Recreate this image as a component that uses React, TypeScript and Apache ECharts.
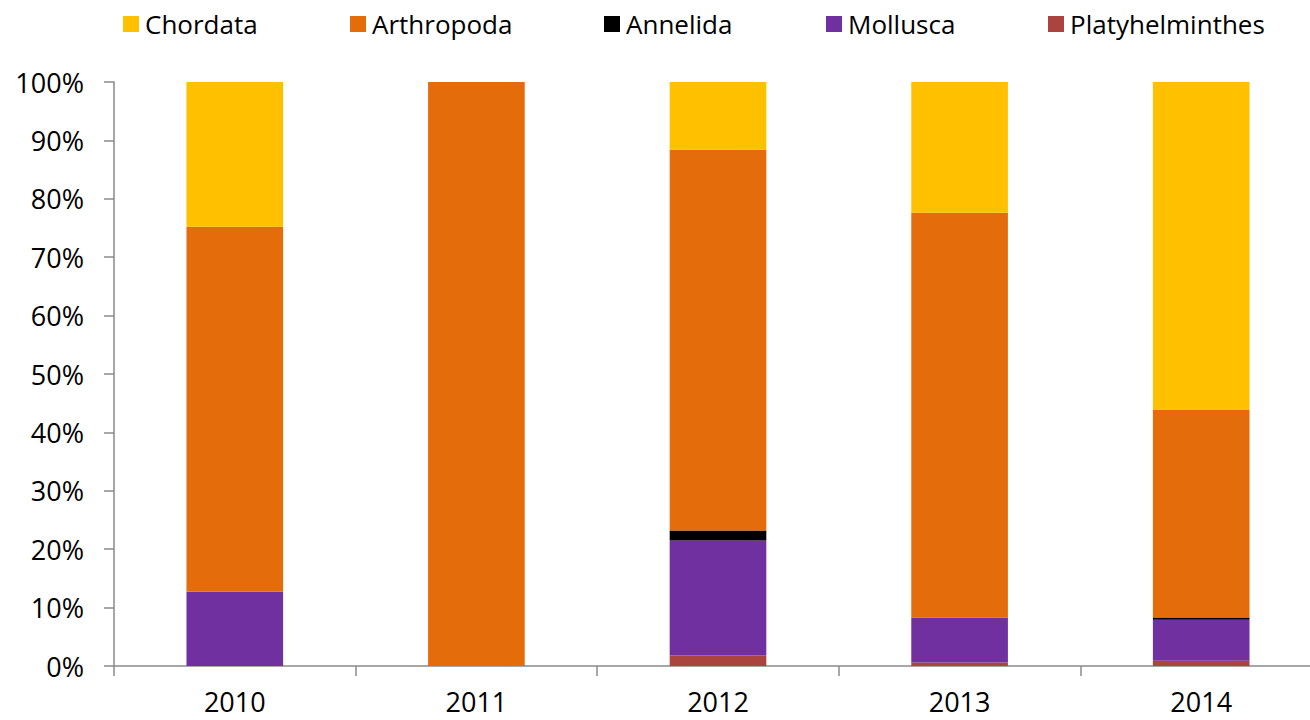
import React, { useEffect, useRef } from "react";
import * as echarts from "echarts";

const years = ["2010", "2011", "2012", "2013", "2014"];
const platyhelminthes = [0, 0, 1.8, 0.6, 0.9];
const mollusca = [12.7, 0, 19.7, 7.7, 7.0];
const annelida = [0, 0, 1.7, 0, 0.4];
const arthropoda = [62.5, 100, 65.2, 69.3, 35.6];
const chordata = [24.8, 0, 11.6, 22.4, 56.1];
const yTicks = [0, 10, 20, 30, 40, 50, 60, 70, 80, 90, 100];

const FONT = "Open Sans";

export default function App() {
  const ref = useRef<HTMLDivElement>(null);
  useEffect(() => {
    if (!ref.current) return;
    const chart = echarts.init(ref.current, null, { renderer: "svg" });
    const seriesDefs = [
      { name: "Platyhelminthes", data: platyhelminthes, color: "#A9443F" },
      { name: "Mollusca", data: mollusca, color: "#7030A0" },
      { name: "Annelida", data: annelida, color: "#000000" },
      { name: "Arthropoda", data: arthropoda, color: "#E46C0A" },
      { name: "Chordata", data: chordata, color: "#FFC000" },
    ];
    const legendPos: Record<string, number> = {
      Chordata: 118,
      Arthropoda: 345,
      Annelida: 599,
      Mollusca: 821,
      Platyhelminthes: 1043,
    };
    const legends = ["Chordata", "Arthropoda", "Annelida", "Mollusca", "Platyhelminthes"].map((n) => ({
      data: [n],
      left: legendPos[n],
      top: 6,
      itemWidth: 16,
      itemHeight: 16,
      itemGap: 0,
      icon: "rect",
      textStyle: { fontFamily: FONT, fontSize: 26, color: "#000", padding: [0, 0, 0, 1] },
      selectedMode: false,
    }));
    chart.setOption({
      animation: false,
      legend: legends,
      grid: { left: 114, right: 0, top: 82, bottom: 54, containLabel: false },
      xAxis: {
        type: "category",
        data: years,
        axisLine: { lineStyle: { color: "#8a8a8a", width: 1.5 } },
        axisTick: { show: true, length: 10, lineStyle: { color: "#8a8a8a", width: 1.5 } },
        axisLabel: { fontFamily: FONT, fontSize: 27, lineHeight: 27, color: "#000", margin: 22 },
      },
      yAxis: {
        type: "value",
        min: yTicks[0],
        max: yTicks[yTicks.length - 1],
        interval: 10,
        axisLine: { show: true, lineStyle: { color: "#8a8a8a", width: 1.5 } },
        axisTick: { show: true, length: 10, lineStyle: { color: "#8a8a8a", width: 1.5 } },
        splitLine: { show: false },
        axisLabel: { fontFamily: FONT, fontSize: 27, color: "#000", margin: 30, formatter: "{value}%" },
      },
      series: seriesDefs.map((s) => ({
        name: s.name,
        type: "bar",
        stack: "total",
        data: s.data,
        barWidth: "40%",
        itemStyle: { color: s.color },
      })),
    });
    return () => chart.dispose();
  }, []);
  return (
    <div style={{ position: "absolute", left: 0, top: 0, width: 1310, height: 720, overflow: "hidden", background: "#fff" }}>
      <div ref={ref} style={{ position: "absolute", left: 0, top: 0, width: 1322, height: 720 }} />
    </div>
  );
}
